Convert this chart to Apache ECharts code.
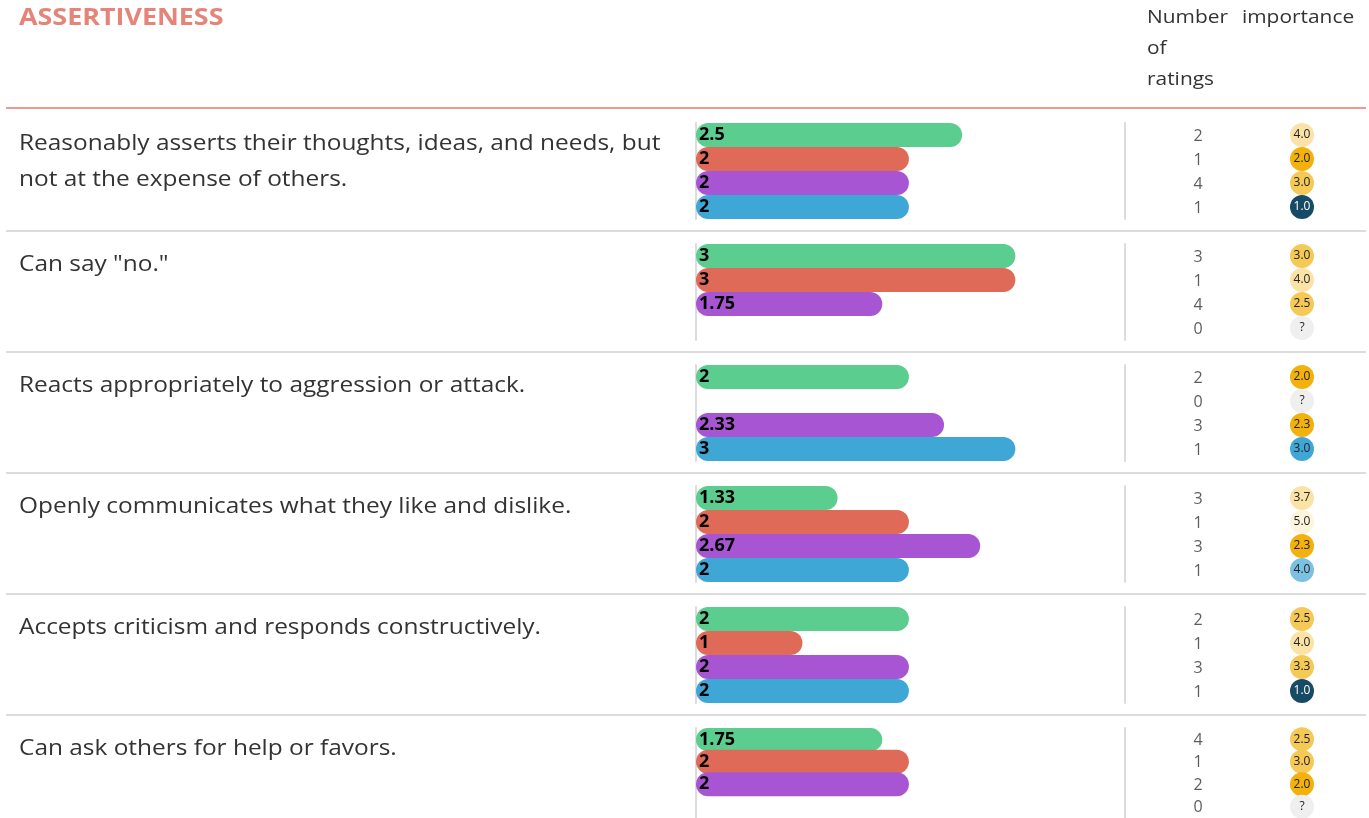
<!DOCTYPE html>
<html>
<head>
<meta charset="utf-8">
<script src="https://cdn.jsdelivr.net/npm/echarts@6/dist/echarts.min.js"></script>
<style>
html,body{margin:0;padding:0;background:#fff;}
#chart{width:1369px;height:818px;}
</style>
</head>
<body>
<div id="chart"></div>
<script>
// ---- data ----
var sectionTitle = 'ASSERTIVENESS';
var questions = [
  ['Reasonably asserts their thoughts, ideas, and needs, but', 'not at the expense of others.'],
  ['Can say "no."'],
  ['Reacts appropriately to aggression or attack.'],
  ['Openly communicates what they like and dislike.'],
  ['Accepts criticism and responds constructively.'],
  ['Can ask others for help or favors.']
];
var groupScores = [
  [2.5, 2, 2, 2],
  [3, 3, 1.75, null],
  [2, null, 2.33, 3],
  [1.33, 2, 2.67, 2],
  [2, 1, 2, 2],
  [1.75, 2, 2, null]
];
var ratingCounts = [
  [2, 1, 4, 1],
  [3, 1, 4, 0],
  [2, 0, 3, 1],
  [3, 1, 3, 1],
  [2, 1, 3, 1],
  [4, 1, 2, 0]
];
var importance = [
  ['4.0', '2.0', '3.0', '1.0'],
  ['3.0', '4.0', '2.5', '?'],
  ['2.0', '?', '2.3', '3.0'],
  ['3.7', '5.0', '2.3', '4.0'],
  ['2.5', '4.0', '3.3', '1.0'],
  ['2.5', '3.0', '2.0', '?']
];
var importanceShade = [
  ['pale', 'amber', 'gold', 'navy'],
  ['gold', 'pale', 'gold', 'none'],
  ['amber', 'none', 'amber', 'blue'],
  ['pale', 'cream', 'amber', 'lightblue'],
  ['gold', 'pale', 'gold', 'navy'],
  ['gold', 'gold', 'amber', 'none']
];
var headerCount = ['Number', 'of', 'ratings'];
var headerImportance = 'importance';

// ---- styles ----
var groupColors = ['#5acd8f', '#e06a58', '#a855d3', '#3fa7d6'];
var shadeColors = {
  pale: '#fbe3a8', amber: '#f2b10c', gold: '#f5c956', navy: '#174a64',
  none: '#efefef', blue: '#3fa7d6', lightblue: '#7cc1e4', cream: '#fdf4de'
};
var FONT = '"Open Sans", "Noto Sans", sans-serif';
var rowH = 121, firstBarTop = 123;
var slots = ['a', 'b', 'c', 'd'];

var grids = [], xAxes = [], yAxes = [], series = [], graphics = [];

graphics.push({type: 'text', x: 19, y: 6, scaleX: 1.12,
  style: {text: sectionTitle, fill: '#e5857a', font: 'bold 24px ' + FONT}});
headerCount.forEach(function (t, i) {
  graphics.push({type: 'text', x: 1147, y: 8 + 31 * i, scaleX: 1.1,
    style: {text: t, fill: '#333', font: '19px ' + FONT}});
});
graphics.push({type: 'text', x: 1242, y: 8, scaleX: 1.1,
  style: {text: headerImportance, fill: '#333', font: '19px ' + FONT}});
graphics.push({type: 'line', shape: {x1: 6, y1: 108, x2: 1366, y2: 108},
  style: {stroke: '#ee9a8e', lineWidth: 2}});

questions.forEach(function (lines, r) {
  var top = firstBarTop + rowH * r;
  lines.forEach(function (t, k) {
    graphics.push({type: 'text', x: 19, y: top + 10 + 36 * k, scaleX: 1.11,
      style: {text: t, fill: '#333', font: '22px ' + FONT}});
  });
  if (r < questions.length - 1) {
    graphics.push({type: 'line', shape: {x1: 6, y1: top + 108, x2: 1366, y2: top + 108},
      style: {stroke: '#dcdcdc', lineWidth: 2}});
  }
  // bar grid
  var gb = grids.length;
  grids.push({left: 696, top: top, width: 429, height: 96});
  xAxes.push({type: 'value', gridIndex: gb, min: 0, max: 4.03, show: false});
  var yb = yAxes.length;
  yAxes.push({type: 'category', gridIndex: gb, data: slots, inverse: true,
    axisLine: {show: true, lineStyle: {color: '#dcdcdc', width: 2}},
    axisTick: {show: false}, axisLabel: {show: false}});
  yAxes.push({type: 'category', gridIndex: gb, data: slots, inverse: true, position: 'right',
    axisLine: {show: true, lineStyle: {color: '#dcdcdc', width: 2}},
    axisTick: {show: false}, axisLabel: {show: false}});
  series.push({
    type: 'bar', xAxisIndex: gb, yAxisIndex: yb, barWidth: 24, z: 3,
    data: groupScores[r].map(function (v, i) {
      return {value: v, itemStyle: {color: groupColors[i], borderRadius: 12}};
    }),
    label: {show: true, position: 'insideLeft', distance: 3, color: '#000',
      fontWeight: 'bold', fontSize: 18, fontFamily: FONT,
      formatter: function (p) { return p.value == null ? '' : String(p.value); }}
  });
  // right columns grid
  var gr = grids.length;
  grids.push({left: 1146, top: top, width: 208, height: 96});
  xAxes.push({type: 'category', gridIndex: gr, data: ['count', 'imp'], show: false});
  var yr = yAxes.length;
  yAxes.push({type: 'category', gridIndex: gr, data: slots, inverse: true, show: false});
  series.push({
    type: 'scatter', xAxisIndex: gr, yAxisIndex: yr, symbolSize: 1,
    itemStyle: {color: 'rgba(0,0,0,0)'},
    data: ratingCounts[r].map(function (c, i) { return ['count', slots[i], c]; }),
    label: {show: true, position: 'inside', color: '#333', fontSize: 16, fontFamily: FONT,
      offset: [0, 1],
      formatter: function (p) { return String(p.value[2]); }}
  });
  series.push({
    type: 'scatter', xAxisIndex: gr, yAxisIndex: yr, symbolSize: 24,
    data: importance[r].map(function (v, i) {
      var shade = importanceShade[r][i];
      return {value: ['imp', slots[i], v],
        itemStyle: {color: shadeColors[shade], opacity: 1},
        label: {color: shade === 'navy' ? '#fff' : '#222'}};
    }),
    label: {show: true, position: 'inside', fontSize: 12, fontFamily: FONT,
      formatter: function (p) { return p.value[2]; }}
  });
});

var chart = echarts.init(document.getElementById('chart'), null, {renderer: 'canvas'});
chart.setOption({
  animation: false,
  grid: grids, xAxis: xAxes, yAxis: yAxes, series: series, graphic: graphics
});
</script>
</body>
</html>
